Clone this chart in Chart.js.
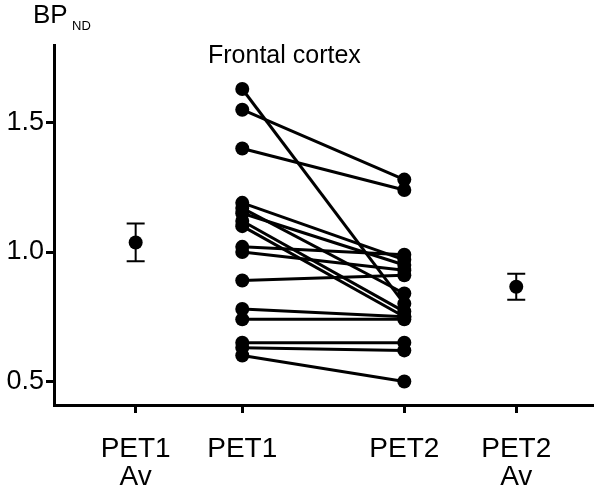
<!DOCTYPE html>
<html>
<head>
<meta charset="utf-8">
<script src="https://cdn.jsdelivr.net/npm/chart.js@4.4.1/dist/chart.umd.min.js"></script>
<style>
  html, body { margin: 0; padding: 0; background: #fff; }
</style>
</head>
<body>
<canvas id="chartCanvas" width="600" height="492"></canvas>
<script>
// categorias no eixo x e suas posicoes
const groupLabels = [['PET1', 'Av'], ['PET1'], ['PET2'], ['PET2', 'Av']];
const groupX = [1, 2, 3.52, 4.57];

// valores individuais (cada indice = um sujeito)
const pet1 = [1.63, 1.55, 1.40, 1.19, 1.17, 1.15, 1.12, 1.10, 1.02, 1.00, 0.89, 0.78, 0.74, 0.65, 0.63, 0.60];
const pet2 = [0.80, 1.28, 1.24, 0.97, 0.84, 0.95, 0.77, 0.75, 0.99, 0.93, 0.91, 0.75, 0.74, 0.65, 0.62, 0.50];

// medias e barras de erro
const avMean = [1.037, 0.866];
const avErr = [0.073, 0.05];

const yTicks = [0.5, 1.0, 1.5];

const FONT = '"Liberation Sans", Arial, Helvetica, sans-serif';

// um dataset por sujeito (linha PET1 -> PET2)
const subjectSets = pet1.map((v, i) => ({
  data: [{ x: groupX[1], y: v }, { x: groupX[2], y: pet2[i] }],
  showLine: true,
  borderColor: '#000',
  backgroundColor: '#000',
  borderWidth: 3,
  pointRadius: 7,
  pointBorderWidth: 0
}));

const avSet = {
  data: [{ x: groupX[0], y: avMean[0] }, { x: groupX[3], y: avMean[1] }],
  showLine: false,
  borderColor: '#000',
  backgroundColor: '#000',
  pointRadius: 7,
  pointBorderWidth: 0
};

// desenha barras de erro e textos
const extras = {
  id: 'extras',
  afterDatasetsDraw(chart) {
    const ctx = chart.ctx;
    const xs = chart.scales.x, ys = chart.scales.y;
    ctx.save();
    ctx.strokeStyle = '#000';
    ctx.lineWidth = 2;
    [0, 3].forEach((g, k) => {
      const px = xs.getPixelForValue(groupX[g]);
      const top = ys.getPixelForValue(avMean[k] + avErr[k]);
      const bot = ys.getPixelForValue(avMean[k] - avErr[k]);
      ctx.beginPath();
      ctx.moveTo(px, top); ctx.lineTo(px, bot);
      ctx.moveTo(px - 9, top); ctx.lineTo(px + 9, top);
      ctx.moveTo(px - 9, bot); ctx.lineTo(px + 9, bot);
      ctx.stroke();
    });
    ctx.fillStyle = '#000';
    ctx.textBaseline = 'alphabetic';
    ctx.font = '25px ' + FONT;
    ctx.fillText('Frontal cortex', 208, 63);
    ctx.font = '26px ' + FONT;
    ctx.fillText('BP', 33, 23);
    ctx.font = '13px ' + FONT;
    ctx.fillText('ND', 72, 30);
    ctx.restore();
  }
};

new Chart(document.getElementById('chartCanvas').getContext('2d'), {
  type: 'scatter',
  data: { datasets: [...subjectSets, avSet] },
  options: {
    responsive: false,
    devicePixelRatio: 1,
    animation: false,
    layout: { padding: { top: 45, left: 0, right: 0, bottom: 0 } },
    plugins: { legend: { display: false }, tooltip: { enabled: false } },
    scales: {
      x: {
        type: 'linear',
        min: 0.234,
        max: 5.29,
        afterBuildTicks: (scale) => { scale.ticks = groupX.map(v => ({ value: v })); },
        afterFit: (scale) => { scale.height = 87; },
        ticks: {
          callback: (v) => groupLabels[groupX.indexOf(v)],
          color: '#000',
          font: { family: FONT, size: 28, lineHeight: 1.0 },
          padding: 22,
          maxRotation: 0,
          autoSkip: false
        },
        grid: { drawOnChartArea: false, drawTicks: true, tickLength: 8, tickWidth: 3, tickColor: '#000' },
        border: { display: true, width: 3, color: '#000' }
      },
      y: {
        min: 0.409,
        max: 1.8,
        afterBuildTicks: (scale) => { scale.ticks = yTicks.map(v => ({ value: v })); },
        afterFit: (scale) => { scale.width = 54; },
        ticks: {
          callback: (v) => v.toFixed(1),
          color: '#000',
          font: { family: FONT, size: 27 },
          padding: 2
        },
        grid: { drawOnChartArea: false, drawTicks: true, tickLength: 8, tickWidth: 3, tickColor: '#000' },
        border: { display: true, width: 3, color: '#000' }
      }
    }
  },
  plugins: [extras]
});
</script>
</body>
</html>
